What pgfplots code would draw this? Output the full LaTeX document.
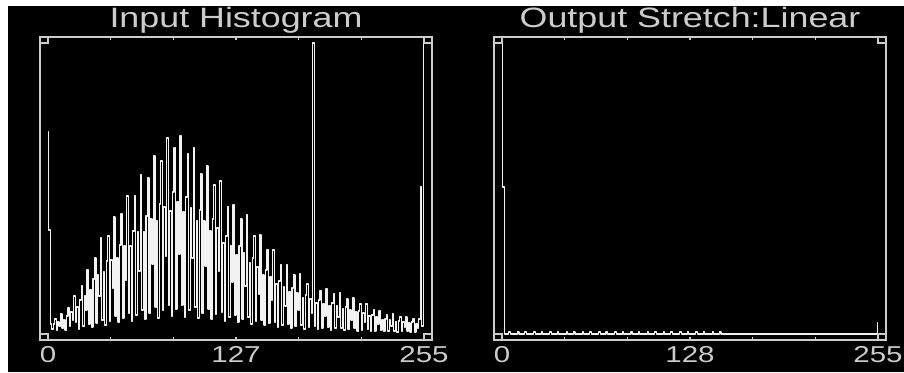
\documentclass[border=0pt]{standalone}
\usepackage{pgfplots}
\pgfplotsset{compat=1.18}
\usepackage{fontspec}
\setmainfont{Liberation Sans}
\newfontfamily\hfont[FakeStretch=1.28]{Liberation Sans}
\definecolor{framec}{gray}{0.80}
\definecolor{textc}{gray}{0.80}
\definecolor{datac}{gray}{0.95}
\tikzset{corner/.style={framec, line width=1.2pt}}
\pgfplotsset{
  histax/.style={
    scale only axis, width=392pt, height=303pt,
    xmin=-5.42, xmax=260.42, ymin=-6, ymax=297,
    axis line style={framec, line width=1.3pt},
    xtick={0,42.5,85,127.5,170,212.5,255},
    xtick pos=both, xticklabel pos=lower, ytick=\empty,
    tick align=inside, major tick length=3pt,
    tick style={framec, line width=1.3pt},
    xticklabel style={font=\hfont\fontsize{23}{23}\selectfont, text=textc, yshift=-3pt},
    title style={font=\hfont\fontsize{28}{28}\selectfont, text=textc, at={(0.5,1)}, anchor=base, yshift=3pt},
    clip=true,
  },
  histline/.style={datac, line width=1.2pt, mark=none, line join=round, const plot mark mid},
}
\begin{document}
\begin{tikzpicture}[x=1pt,y=1pt]
\fill[white] (0,0) rectangle (904,372);
\path[use as bounding box] (0,0) rectangle (904,372);
\fill[black] (8,0) rectangle (904,366);
\begin{axis}[histax, at={(40pt,32pt)}, anchor=south west, title={Input Histogram}, xticklabels={0,,,127,,,255}]
\addplot[histline] coordinates {
(0,202) (1,104) (2,10) (3,5) (4,10) (5,15) (6,4) (7,12) (8,8) (9,20)
(10,6) (11,14) (12,4) (13,18) (14,26) (15,8) (16,22) (17,14) (18,38) (19,12)
(20,27) (21,5) (22,34) (23,48) (24,8) (25,38) (26,24) (27,64) (28,10) (29,44)
(30,7) (31,55) (32,76) (33,11) (34,59) (35,38) (36,96) (37,14) (38,62) (39,9)
(40,73) (41,98) (42,13) (43,74) (44,46) (45,117) (46,18) (47,76) (48,12) (49,89)
(50,120) (51,16) (52,88) (53,54) (54,138) (55,21) (56,88) (57,13) (58,103) (59,138)
(60,19) (61,102) (62,63) (63,159) (64,24) (65,102) (66,15) (67,118) (68,156) (69,21)
(70,115) (71,70) (72,178) (73,27) (74,113) (75,16) (76,130) (77,173) (78,24) (79,127)
(80,78) (81,196) (82,29) (83,123) (84,18) (85,142) (86,186) (87,25) (88,132) (89,80)
(90,198) (91,29) (92,122) (93,17) (94,137) (95,180) (96,24) (97,126) (98,76) (99,186)
(100,27) (101,113) (102,16) (103,124) (104,160) (105,21) (106,113) (107,68) (108,168) (109,25)
(110,103) (111,15) (112,115) (113,149) (114,20) (115,106) (116,63) (117,153) (118,22) (119,91)
(120,13) (121,98) (122,127) (123,17) (124,88) (125,52) (126,129) (127,19) (128,79) (129,12)
(130,88) (131,115) (132,15) (133,81) (134,48) (135,119) (136,17) (137,71) (138,10) (139,76)
(140,98) (141,13) (142,67) (143,40) (144,99) (145,14) (146,59) (147,9) (148,64) (149,84)
(150,11) (151,57) (152,34) (153,84) (154,12) (155,50) (156,7) (157,53) (158,69) (159,9)
(160,47) (161,28) (162,69) (163,10) (164,42) (165,6) (166,46) (167,59) (168,8) (169,41)
(170,24) (171,60) (172,9) (173,36) (174,5) (175,39) (176,50) (177,7) (178,35) (179,21)
(180,291) (181,8) (182,31) (183,5) (184,34) (185,43) (186,6) (187,30) (188,18) (189,45)
(190,7) (191,28) (192,4) (193,31) (194,40) (195,6) (196,28) (197,17) (198,41) (199,6)
(200,25) (201,4) (202,27) (203,35) (204,5) (205,24) (206,14) (207,36) (208,6) (209,22)
(210,3) (211,23) (212,30) (213,4) (214,21) (215,12) (216,30) (217,5) (218,18) (219,3)
(220,19) (221,24) (222,3) (223,17) (224,10) (225,23) (226,4) (227,14) (228,3) (229,15)
(230,19) (231,3) (232,14) (233,8) (234,20) (235,3) (236,12) (237,2) (238,13) (239,17)
(240,3) (241,12) (242,7) (243,17) (244,3) (245,11) (246,2) (247,12) (248,15) (249,2)
(250,10) (251,6) (252,15) (253,147) (254,8) (255,400)
};
\draw[corner] (axis cs:-5.42,291) rectangle (axis cs:0,297);
\draw[corner] (axis cs:-5.42,-6) rectangle (axis cs:0,0);
\draw[corner] (axis cs:255,291) rectangle (axis cs:260.42,297);
\draw[corner] (axis cs:255,-6) rectangle (axis cs:260.42,0);
\end{axis}
\begin{axis}[histax, at={(494pt,32pt)}, anchor=south west, title={Output Stretch:Linear}, xticklabels={0,,,128,,,255}]
\addplot[histline, line width=1.1pt] coordinates {
(0,400) (1,147) (2,0) (4,0) (5,2) (6,0) (10,0) (11,2) (12,0) (15,0) (16,2) (17,0)
(21,0) (22,2) (23,0) (26,0) (27,2) (28,0) (32,0) (33,2) (34,0) (37,0) (38,2) (39,0)
(43,0) (44,2) (45,0) (48,0) (49,2) (50,0) (54,0) (55,2) (56,0) (59,0) (60,2) (61,0)
(65,0) (66,2) (67,0) (70,0) (71,2) (72,0) (76,0) (77,2) (78,0) (81,0) (82,2) (83,0)
(87,0) (88,2) (89,0) (92,0) (93,2) (94,0) (98,0) (99,2) (100,0) (103,0) (104,2) (105,0)
(109,0) (110,2) (111,0) (114,0) (115,2) (116,0) (120,0) (121,2) (122,0) (125,0) (126,2) (127,0)
(131,0) (132,2) (133,0) (136,0) (137,2) (138,0) (142,0) (143,2) (144,0) (147,0) (148,2) (149,0)
(254,0) (255,11)
};
\draw[corner] (axis cs:-5.42,291) rectangle (axis cs:0,297);
\draw[corner] (axis cs:-5.42,-6) rectangle (axis cs:0,0);
\draw[corner] (axis cs:255,291) rectangle (axis cs:260.42,297);
\draw[corner] (axis cs:255,-6) rectangle (axis cs:260.42,0);
\end{axis}
\end{tikzpicture}
\end{document}
